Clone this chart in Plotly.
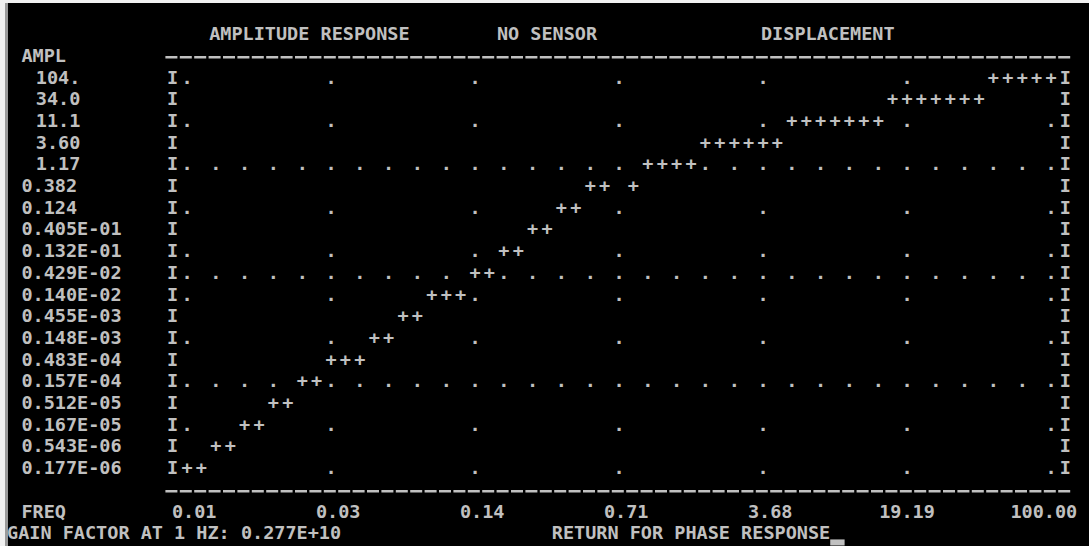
import plotly.graph_objects as go

TITLE_PARTS = ["AMPLITUDE RESPONSE", "NO SENSOR", "DISPLACEMENT"]
Y_AXIS_NAME = "AMPL"
X_AXIS_NAME = "FREQ"
AMPL_LABELS = [" 104.", " 34.0", " 11.1", " 3.60", " 1.17", "0.382", "0.124",
               "0.405E-01", "0.132E-01", "0.429E-02", "0.140E-02", "0.455E-03",
               "0.148E-03", "0.483E-04", "0.157E-04", "0.512E-05", "0.167E-05",
               "0.543E-06", "0.177E-06"]
FREQ_LABELS = ["0.01", "0.03", "0.14", "0.71", "3.68", "19.19", "100.00"]
# amplitude level (index into AMPL_LABELS) of the response at each of the
# 61 frequency steps of the plot (None = no mark printed)
RESPONSE_LEVEL = [18, 18, 17, 17, 16, 16, 15, 15, 14, 14,
                  13, 13, 13, 12, 12, 11, 11, 10, 10, 10,
                  9, 9, 8, 8, 7, 7, 6, 6, 5, 5,
                  None, 5, 4, 4, 4, 4, 3, 3, 3, 3,
                  3, 3, 2, 2, 2, 2, 2, 2, 2, 1,
                  1, 1, 1, 1, 1, 1, 0, 0, 0, 0,
                  0]
GAIN_TEXT = "GAIN FACTOR AT 1 HZ: 0.277E+10"
PROMPT_TEXT = "RETURN FOR PHASE RESPONSE"

# ---------------- screen layout (character grid) ----------------
W, H = 1089, 546
CELL_W, CELL_H = 14.4, 21.7
X_ORIGIN, Y_ORIGIN = 7.0, 3.0
FG = "#c0c0c0"
BG = "#000000"
FONT_SIZE = 18.5
FONT_ADVANCE = 0.602 * FONT_SIZE          # DejaVu Sans Mono glyph advance (px)
FONT = dict(family="DejaVu Sans Mono, Liberation Mono, monospace", size=FONT_SIZE,
            color=FG, weight="bold")

TITLE_ROW, HEAD_ROW, FIRST_DATA_ROW = 1, 2, 3
LABEL_COL, BORDER_LEFT, FIRST_DATA_COL = 1, 11, 12
TITLE_COLS = [12, 33, 51]
PROMPT_COL = 35
TICK_STEP, FULL_GRID_STEP, PART_GRID_STEP, FINE_STEP = 10, 5, 2, 2

n_levels = len(AMPL_LABELS)
n_steps = len(RESPONSE_LEVEL)
last_data_col = FIRST_DATA_COL + n_steps - 1
border_right = last_data_col + 1
last_data_row = FIRST_DATA_ROW + n_levels - 1
rule_bottom_row = last_data_row + 1
freq_row = rule_bottom_row + 1
gain_row = freq_row + 1

fig = go.Figure()
left = ([], [], [])
center = ([], [], [])


def place(row, col, s, anchor="center"):
    """Place a text field that occupies the cells starting at `col`."""
    body = s.strip()
    start = col + (len(s) - len(s.lstrip()))
    if anchor == "left":
        left[0].append(start - 0.5)
        left[1].append(row)
        left[2].append(body)
    else:
        xc = start + (len(body) - 1) / 2
        center[0].append(xc)
        center[1].append(row)
        center[2].append(body)
        return xc + len(body) * FONT_ADVANCE / 2 / CELL_W   # right end of the text


def add_text(xs, ys, ts, name, pos="middle center"):
    fig.add_trace(go.Scatter(x=xs, y=ys, text=ts, mode="text", name=name,
                             textposition=pos, textfont=FONT,
                             hoverinfo="skip", showlegend=False))


# --- screen texts: title, axis names, labels, status line
for part, c in zip(TITLE_PARTS, TITLE_COLS):
    place(TITLE_ROW, c, part)
place(HEAD_ROW, LABEL_COL, Y_AXIS_NAME, "left")
for i, lab in enumerate(AMPL_LABELS):
    place(FIRST_DATA_ROW + i, LABEL_COL, lab, "left")
place(freq_row, LABEL_COL, X_AXIS_NAME, "left")
for i, lab in enumerate(FREQ_LABELS):
    tick_col = FIRST_DATA_COL + i * TICK_STEP
    place(freq_row, tick_col - lab.index("."), lab)
place(gain_row, 0, GAIN_TEXT, "left")
prompt_end = place(gain_row, PROMPT_COL, PROMPT_TEXT)
add_text(*center, "screen text")
add_text(*left, "labels", "middle right")

# --- response marks
plus = set()
for k, lvl in enumerate(RESPONSE_LEVEL):
    if lvl is not None:
        plus.add((FIRST_DATA_COL + k, FIRST_DATA_ROW + lvl))
pts = sorted(plus)
add_text([p[0] for p in pts], [p[1] for p in pts], ["+"] * len(pts), "response")

# --- dotted grid
dx, dy = [], []
for lvl in range(n_levels):
    row = FIRST_DATA_ROW + lvl
    if lvl % FULL_GRID_STEP == FULL_GRID_STEP - 1:
        step = FINE_STEP
    elif lvl % PART_GRID_STEP == 0:
        step = TICK_STEP
    else:
        continue
    for c in range(FIRST_DATA_COL, last_data_col + 1, step):
        if (c, row) not in plus:
            dx.append(c)
            dy.append(row)
add_text(dx, dy, ["."] * len(dx), "grid")

# --- frame borders
bx, by = [], []
for lvl in range(n_levels):
    for c in (BORDER_LEFT, border_right):
        bx.append(c)
        by.append(FIRST_DATA_ROW + lvl)
add_text(bx, by, ["I"] * len(bx), "frame")

# --- dashed rules above and below the plot
for r in (HEAD_ROW, rule_bottom_row):
    fig.add_trace(go.Scatter(x=[BORDER_LEFT - 0.5, border_right + 0.5], y=[r, r],
                             mode="lines", hoverinfo="skip", showlegend=False,
                             line=dict(color=FG, width=2.5, dash="12px,2.4px")))

# --- block cursor right after the prompt
fig.add_shape(type="rect", xref="x", yref="y", x0=prompt_end, x1=prompt_end + 1,
              y0=gain_row + 0.22, y1=gain_row + 0.5, fillcolor=FG, line_width=0)

# --- console window edge
fig.add_shape(type="rect", xref="paper", yref="paper", x0=0, x1=5 / W, y0=0, y1=1,
              fillcolor="#f0f0f0", line_width=0, layer="above")
fig.add_shape(type="rect", xref="paper", yref="paper", x0=5 / W, x1=8 / W, y0=0, y1=1,
              fillcolor="#9a9a9a", line_width=0, layer="above")
fig.add_shape(type="rect", xref="paper", yref="paper", x0=0, x1=1, y0=1 - 3 / H, y1=1,
              fillcolor="#f0f0f0", line_width=0, layer="above")

x_lo = -X_ORIGIN / CELL_W - 0.5
x_hi = (W - X_ORIGIN) / CELL_W - 0.5
y_top = -Y_ORIGIN / CELL_H - 0.5
y_bot = (H - Y_ORIGIN) / CELL_H - 0.5

fig.update_xaxes(range=[x_lo, x_hi], visible=False, fixedrange=True)
fig.update_yaxes(range=[y_bot, y_top], visible=False, fixedrange=True)
fig.update_layout(width=W, height=H, margin=dict(l=0, r=0, t=0, b=0, pad=0),
                  paper_bgcolor=BG, plot_bgcolor=BG, showlegend=False)

fig.write_html("out.html", config={"displayModeBar": False},
               post_script="document.body.style.margin='0';")
